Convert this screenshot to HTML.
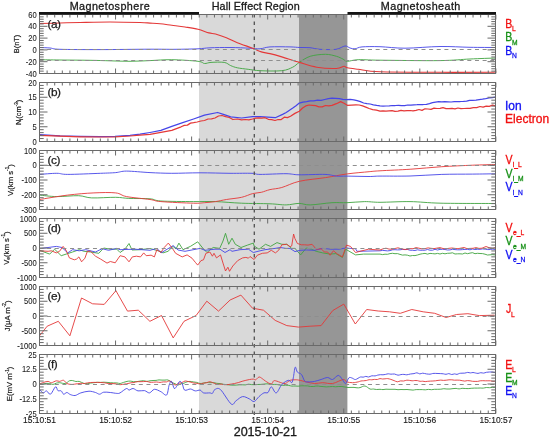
<!DOCTYPE html>
<html><head><meta charset="utf-8"><title>Hall Effect Region plot</title>
<style>html,body{margin:0;padding:0;background:#fff;}svg{display:block;}</style>
</head><body>
<svg width="550" height="437" viewBox="0 0 550 437">
<rect x="0" y="0" width="550" height="437" fill="#ffffff"/>
<rect x="199" y="14" width="100" height="400" fill="#d9d9d9"/>
<rect x="299" y="14" width="48.4" height="400" fill="#969696"/>
<path d="M39.5,59.7C42.92,59.75 51.58,59.90 60.0,60.0C68.42,60.10 81.67,60.17 90.0,60.3C98.33,60.43 103.33,60.63 110.0,60.8C116.67,60.97 123.33,61.33 130.0,61.3C136.67,61.27 143.03,60.87 150.0,60.6C156.97,60.33 163.80,59.58 171.8,59.7C179.80,59.82 192.55,60.67 198.0,61.3C203.45,61.93 202.33,63.32 204.5,63.5C206.67,63.68 207.72,62.58 211.0,62.4C214.28,62.22 220.92,61.87 224.2,62.4C227.48,62.93 228.52,64.70 230.7,65.6C232.88,66.50 234.38,67.18 237.3,67.8C240.22,68.42 244.42,68.82 248.2,69.3C251.98,69.78 254.40,70.47 260.0,70.7C265.60,70.93 276.35,71.28 281.8,70.7C287.25,70.12 289.78,68.58 292.7,67.2C295.62,65.82 296.38,64.22 299.3,62.4C302.22,60.58 305.83,57.65 310.2,56.3C314.57,54.95 321.13,54.30 325.5,54.3C329.87,54.30 333.48,55.50 336.4,56.3C339.32,57.10 341.18,58.27 343.0,59.1C344.82,59.93 344.77,61.20 347.3,61.3C349.83,61.40 352.75,59.88 358.2,59.7C363.65,59.52 366.37,60.05 380.0,60.2C393.63,60.35 425.00,60.80 440.0,60.6C455.00,60.40 460.75,59.43 470.0,59.0C479.25,58.57 491.25,58.17 495.5,58.0" fill="none" stroke="#40a440" stroke-width="0.9" stroke-linejoin="round"/>
<path d="M39.5,47.5C41.25,47.58 46.58,47.70 50.0,48.0C53.42,48.30 51.67,49.03 60.0,49.3C68.33,49.57 85.00,49.62 100.0,49.6C115.00,49.58 137.50,49.25 150.0,49.2C162.50,49.15 167.00,49.37 175.0,49.3C183.00,49.23 192.17,49.05 198.0,48.8C203.83,48.55 204.67,48.02 210.0,47.8C215.33,47.58 223.33,47.43 230.0,47.5C236.67,47.57 245.00,47.98 250.0,48.2C255.00,48.42 256.67,49.02 260.0,48.8C263.33,48.58 265.00,47.22 270.0,46.9C275.00,46.58 285.00,46.80 290.0,46.9C295.00,47.00 296.67,47.37 300.0,47.5C303.33,47.63 306.67,47.40 310.0,47.7C313.33,48.00 315.67,49.03 320.0,49.3C324.33,49.57 331.83,49.85 336.0,49.3C340.17,48.75 342.67,46.22 345.0,46.0C347.33,45.78 348.33,47.53 350.0,48.0C351.67,48.47 353.00,48.98 355.0,48.8C357.00,48.62 357.83,47.25 362.0,46.9C366.17,46.55 372.83,46.48 380.0,46.7C387.17,46.92 395.00,48.23 405.0,48.2C415.00,48.17 429.17,46.65 440.0,46.5C450.83,46.35 460.75,47.13 470.0,47.3C479.25,47.47 491.25,47.47 495.5,47.5" fill="none" stroke="#4545e8" stroke-width="0.9" stroke-linejoin="round"/>
<path d="M39.5,23.5C42.92,23.42 53.25,23.17 60.0,23.0C66.75,22.83 71.67,22.67 80.0,22.5C88.33,22.33 100.00,22.00 110.0,22.0C120.00,22.00 133.33,22.32 140.0,22.5C146.67,22.68 146.67,22.88 150.0,23.1C153.33,23.32 156.37,23.43 160.0,23.8C163.63,24.17 167.63,24.77 171.8,25.3C175.97,25.83 180.63,26.35 185.0,27.0C189.37,27.65 194.02,28.22 198.0,29.2C201.98,30.18 205.98,32.10 208.9,32.9C211.82,33.70 212.58,33.20 215.5,34.0C218.42,34.80 222.77,36.25 226.4,37.7C230.03,39.15 232.93,40.95 237.3,42.7C241.67,44.45 248.60,46.67 252.6,48.2C256.60,49.73 258.40,51.00 261.3,51.9C264.20,52.80 266.58,52.77 270.0,53.6C273.42,54.43 276.92,55.43 281.8,56.9C286.68,58.37 293.48,60.68 299.3,62.4C305.12,64.12 310.52,66.18 316.7,67.2C322.88,68.22 331.85,68.65 336.4,68.5C340.95,68.35 342.18,66.42 344.0,66.3C345.82,66.18 344.93,67.30 347.3,67.8C349.67,68.30 352.75,68.63 358.2,69.3C363.65,69.97 366.37,71.30 380.0,71.8C393.63,72.30 421.67,72.23 440.0,72.3C458.33,72.37 480.75,72.32 490.0,72.2C499.25,72.08 494.58,71.70 495.5,71.6" fill="none" stroke="#e43838" stroke-width="1.1" stroke-linejoin="round"/>
<polyline points="39.5,134.7 60.0,135.8 80.0,136.4 100.0,136.6 115.0,136.3 130.0,135.3 140.0,134.2 150.0,132.5 160.9,130.4 171.8,126.4 182.7,122.7 193.6,119.0 204.5,115.1 217.6,112.5 224.2,114.7 230.7,116.8 241.6,118.0 252.6,116.6 260.0,116.6 275.3,117.7 282.6,114.4 286.2,112.5 289.5,110.3 292.8,108.1 296.0,105.7 299.3,103.1 302.9,102.2 306.6,101.6 310.2,100.9 313.8,100.8 317.5,100.2 321.1,100.3 324.7,99.5 328.4,98.6 332.0,98.1 335.6,98.3 339.3,98.7 342.9,99.4 346.5,99.7 350.2,99.4 353.8,99.8 357.1,100.6 360.4,101.7 363.6,103.0 366.9,103.7 370.2,104.0 373.4,104.8 376.7,105.4 380.0,105.9 383.1,106.1 386.2,106.0 389.3,105.9 392.4,105.5 395.4,105.5 398.5,105.4 401.6,105.7 404.7,105.7 407.8,105.0 410.9,105.2 414.0,104.8 417.1,104.7 420.2,104.5 423.3,104.5 426.4,104.3 429.5,103.6 432.5,102.7 435.6,102.1 438.7,101.7 441.8,101.9 444.9,101.7 448.0,101.8 451.1,102.0 454.2,101.7 457.3,101.5 460.4,101.5 463.5,101.4 466.6,101.2 469.6,100.4 472.7,100.3 476.0,100.1 479.2,99.6 482.5,99.2 485.7,98.7 489.0,98.0 492.2,97.6 495.5,97.2" fill="none" stroke="#4545e8" stroke-width="1.25" stroke-linejoin="round"/>
<polyline points="39.5,135.3 60.0,136.2 80.0,136.8 100.0,137.0 115.0,136.8 130.0,136.0 140.0,135.2 150.0,134.3 171.8,130.4 181.1,126.8 184.3,125.4 187.4,125.1 190.5,123.1 193.6,122.7 197.2,122.0 200.9,121.0 204.5,120.5 208.0,119.0 211.5,118.8 215.0,118.0 218.5,116.0 222.0,115.5 225.6,116.7 229.3,117.5 232.9,119.5 237.2,119.0 241.6,119.9 245.3,119.5 248.9,119.8 252.6,119.0 255.7,118.1 258.8,117.9 261.9,118.2 265.0,117.7 268.3,119.3 271.7,119.7 275.0,120.5 278.1,119.5 281.2,119.5 284.3,117.2 287.4,117.6 290.5,116.2 294.9,113.4 299.3,111.2 302.6,108.0 305.8,105.9 309.1,105.0 312.4,105.3 315.6,105.7 318.9,106.8 322.2,106.9 325.4,105.5 328.7,105.8 332.0,105.3 336.4,103.7 340.7,101.6 344.0,103.2 347.3,105.3 351.6,105.1 356.0,104.8 359.3,105.0 362.6,105.9 365.8,107.1 369.1,108.5 372.7,109.7 376.4,110.2 380.0,111.2 383.0,110.8 386.0,111.2 389.0,110.9 392.0,110.6 395.0,111.3 398.0,111.1 401.0,110.3 404.0,110.8 407.0,110.6 410.0,110.5 413.0,110.9 416.0,110.4 419.0,109.5 422.0,110.4 425.0,108.8 428.0,109.0 431.0,109.4 434.0,108.2 437.0,108.5 440.0,108.3 443.0,107.6 446.0,108.6 449.0,108.7 452.0,108.4 455.0,108.9 458.0,108.0 461.0,108.6 464.0,108.5 467.0,108.4 470.0,108.3 473.3,107.6 476.7,107.6 480.0,106.5 483.1,107.1 486.2,106.2 489.3,106.3 492.4,105.2 495.5,105.8" fill="none" stroke="#e43838" stroke-width="1.25" stroke-linejoin="round"/>
<path d="M39.5,195.1C42.38,195.35 50.28,196.50 56.8,196.6C63.32,196.70 72.78,195.48 78.6,195.7C84.42,195.92 85.52,197.63 91.7,197.9C97.88,198.17 109.52,197.22 115.7,197.3C121.88,197.38 123.08,198.15 128.8,198.4C134.52,198.65 144.65,198.37 150.0,198.8C155.35,199.23 153.63,200.53 160.9,201.0C168.17,201.47 184.50,201.50 193.6,201.6C202.70,201.70 207.50,201.33 215.5,201.6C223.50,201.87 232.52,202.83 241.6,203.2C250.68,203.57 262.57,203.52 270.0,203.8C277.43,204.08 281.37,204.97 286.2,204.9C291.03,204.83 295.00,203.40 299.0,203.4C303.00,203.40 304.70,205.02 310.2,204.9C315.70,204.78 325.87,203.07 332.0,202.7C338.13,202.33 341.55,202.88 347.0,202.7C352.45,202.52 359.20,201.67 364.7,201.6C370.20,201.53 372.45,202.30 380.0,202.3C387.55,202.30 399.83,201.45 410.0,201.6C420.17,201.75 426.75,202.88 441.0,203.2C455.25,203.52 486.42,203.45 495.5,203.5" fill="none" stroke="#40a440" stroke-width="0.9" stroke-linejoin="round"/>
<path d="M39.5,199.5C44.20,198.77 58.63,196.20 67.7,195.1C76.77,194.00 85.90,193.27 93.9,192.9C101.90,192.53 110.25,192.28 115.7,192.9C121.15,193.52 120.88,195.50 126.6,196.6C132.32,197.70 144.28,198.67 150.0,199.5C155.72,200.33 153.63,200.98 160.9,201.6C168.17,202.22 186.33,203.02 193.6,203.2C200.87,203.38 200.85,202.97 204.5,202.7C208.15,202.43 211.85,202.13 215.5,201.6C219.15,201.07 222.05,200.22 226.4,199.5C230.75,198.78 237.23,198.28 241.6,197.3C245.97,196.32 249.32,194.43 252.6,193.6C255.88,192.77 258.40,192.97 261.3,192.3C264.20,191.63 266.58,190.40 270.0,189.6C273.42,188.80 276.92,188.88 281.8,187.5C286.68,186.12 292.02,182.95 299.3,181.3C306.58,179.65 317.50,178.83 325.5,177.6C333.50,176.37 340.03,174.88 347.3,173.9C354.57,172.92 363.65,172.22 369.1,171.7C374.55,171.18 373.03,171.22 380.0,170.8C386.97,170.38 400.60,169.88 410.9,169.2C421.20,168.52 431.50,167.37 441.8,166.7C452.10,166.03 463.75,165.57 472.7,165.2C481.65,164.83 491.70,164.62 495.5,164.5" fill="none" stroke="#e43838" stroke-width="0.9" stroke-linejoin="round"/>
<path d="M39.5,174.4C42.38,174.22 52.10,173.30 56.8,173.3C61.50,173.30 60.42,174.40 67.7,174.4C74.98,174.40 92.50,173.60 100.5,173.3C108.50,173.00 111.35,172.97 115.7,172.6C120.05,172.23 120.88,171.10 126.6,171.1C132.32,171.10 142.47,172.23 150.0,172.6C157.53,172.97 163.47,173.27 171.8,173.3C180.13,173.33 190.30,172.80 200.0,172.8C209.70,172.80 221.33,173.22 230.0,173.3C238.67,173.38 247.00,173.12 252.0,173.3C257.00,173.48 254.33,174.33 260.0,174.4C265.67,174.47 279.50,173.63 286.0,173.7C292.50,173.77 292.50,174.68 299.0,174.8C305.50,174.92 318.77,174.18 325.0,174.4C331.23,174.62 332.73,175.82 336.4,176.1C340.07,176.38 341.57,176.03 347.0,176.1C352.43,176.17 363.50,176.50 369.0,176.5C374.50,176.50 373.17,176.18 380.0,176.1C386.83,176.02 399.70,176.28 410.0,176.0C420.30,175.72 431.35,174.72 441.8,174.4C452.25,174.08 463.75,174.20 472.7,174.1C481.65,174.00 491.70,173.85 495.5,173.8" fill="none" stroke="#4545e8" stroke-width="0.9" stroke-linejoin="round"/>
<polyline points="39.5,250.3 49.7,254.1 54.6,249.2 61.2,255.7 66.1,254.1 72.6,252.0 79.2,249.7 84.1,251.3 90.6,252.0 98.8,253.3 103.7,248.0 110.3,249.2 116.8,249.2 120.1,252.5 125.0,249.0 129.0,243.5 132.0,250.0 140.0,249.7 150.0,248.5 160.0,251.3 163.0,252.9 168.0,251.3 173.0,246.4 176.0,249.0 178.9,243.1 183.0,249.7 190.4,246.4 197.7,241.8 203.0,248.4 207.0,252.5 209.9,250.0 213.2,247.5 219.7,248.4 223.0,241.0 225.5,233.3 228.7,244.3 232.0,238.2 235.3,244.3 241.0,247.5 247.5,245.1 253.3,243.1 254.1,246.0 259.0,249.2 265.5,244.3 270.5,246.4 277.0,242.6 281.9,244.3 286.8,244.3 291.7,248.4 295.0,248.4 300.6,254.9 306.4,248.0 311.3,249.2 316.2,251.3 322.7,252.9 330.1,254.1 335.8,253.6 342.4,257.4 345.6,249.2 355.5,254.9 363.6,254.1 380.0,254.1 382.5,254.6 385.0,254.2 387.5,254.3 390.0,253.6 392.5,253.3 395.0,253.7 397.5,253.6 400.0,254.4 402.5,255.1 405.0,254.9 407.5,255.2 410.0,256.0 412.5,255.5 415.0,255.6 417.5,255.0 420.0,254.2 422.5,253.7 425.0,253.4 427.5,254.1 430.0,253.4 432.5,253.6 435.0,253.9 437.5,253.4 440.0,254.0 442.5,253.3 445.0,253.8 447.5,253.3 450.0,253.2 452.5,252.8 455.0,254.0 457.5,253.8 460.0,253.8 462.5,254.0 465.0,253.0 467.5,253.7 470.0,253.1 472.5,252.7 475.0,253.7 477.5,253.3 480.0,253.5 482.5,253.6 485.0,254.2 487.5,255.0 490.0,254.8 492.8,254.6 495.5,255.0" fill="none" stroke="#40a440" stroke-width="0.9" stroke-linejoin="round"/>
<polyline points="39.5,248.7 56.3,246.4 62.0,247.5 67.7,252.9 72.6,249.7 79.2,250.8 85.7,249.7 95.5,252.0 102.1,248.7 108.6,250.3 116.8,248.4 120.0,249.7 135.0,249.2 150.0,250.3 157.0,248.4 161.0,252.9 173.2,245.6 178.0,250.0 185.0,251.3 200.2,248.4 205.0,250.3 215.0,249.2 220.0,249.2 225.0,252.5 230.0,249.7 232.0,251.3 240.0,249.7 248.4,249.2 253.3,252.5 258.0,251.3 265.0,249.7 275.0,248.4 280.3,247.5 286.0,248.4 290.0,248.4 295.0,251.6 300.0,250.3 306.4,250.0 314.5,250.3 322.7,248.4 330.9,249.2 339.1,249.2 345.6,248.0 355.5,248.7 357.0,251.3 380.0,250.8 382.5,250.4 385.0,250.6 387.5,250.9 390.0,250.6 392.5,249.8 395.0,249.7 397.5,249.9 400.0,249.8 402.5,249.4 405.0,249.6 407.5,249.5 410.0,250.2 412.5,250.3 415.0,250.5 417.5,249.8 420.0,250.2 422.5,250.3 425.0,250.2 427.5,249.5 430.0,250.2 432.5,250.2 435.0,249.3 437.5,250.0 440.0,249.4 442.5,249.3 445.0,249.5 447.5,250.0 450.0,249.9 452.5,249.3 455.0,249.6 457.5,249.8 460.0,249.8 462.5,249.6 465.0,249.4 467.5,249.4 470.0,249.8 472.5,249.0 475.0,249.5 477.5,249.3 480.0,249.3 482.6,248.9 485.2,249.2 487.8,249.6 490.3,249.5 492.9,249.1 495.5,249.6" fill="none" stroke="#4545e8" stroke-width="0.9" stroke-linejoin="round"/>
<polyline points="39.5,250.8 48.1,251.3 51.4,250.8 56.3,252.9 59.5,251.3 63.1,246.4 66.1,250.3 69.4,257.9 74.3,259.8 76.7,259.0 78.9,256.9 81.6,261.8 84.9,258.2 87.4,251.3 90.6,251.3 95.5,256.2 100.5,259.0 107.0,263.1 110.3,261.5 115.2,262.8 120.1,255.7 124.9,256.9 129.0,261.8 132.3,256.9 136.4,256.2 140.5,256.9 143.7,252.9 146.2,255.7 151.1,255.2 154.4,256.9 156.8,249.7 160.9,252.5 164.2,247.5 168.3,243.1 172.4,248.4 175.6,253.3 182.2,256.9 187.1,254.9 192.0,258.2 195.3,262.3 197.7,265.1 201.0,260.6 203.5,259.8 205.9,253.3 209.9,252.0 212.4,256.2 214.0,253.3 216.5,257.9 220.5,254.9 223.0,263.1 225.5,271.0 227.9,267.2 229.5,271.3 232.8,266.0 237.7,260.6 242.6,257.9 245.9,257.4 248.4,258.2 250.0,256.5 254.1,259.5 257.4,255.2 262.3,253.3 267.2,252.9 271.3,250.3 275.4,252.9 278.6,250.3 281.9,244.8 286.8,244.3 290.1,246.7 291.7,245.9 293.6,234.0 294.9,238.5 297.4,243.5 301.5,244.8 304.7,244.8 308.0,245.1 312.1,244.3 316.2,249.2 321.1,248.7 324.4,252.0 327.6,252.0 330.1,255.2 333.4,250.8 337.5,254.1 342.4,256.9 346.5,245.1 350.5,246.4 355.5,252.5 362.0,250.8 368.5,249.2 375.1,249.7 380.0,250.0 383.0,248.8 386.0,248.2 389.0,249.1 392.0,249.2 395.0,248.5 398.0,247.8 401.0,248.7 404.0,249.4 407.0,249.4 410.0,248.6 413.0,248.7 416.0,247.6 419.0,248.2 422.0,248.9 425.0,248.6 428.0,247.9 431.0,248.3 434.0,248.6 437.0,248.1 440.0,247.6 443.0,248.5 446.0,248.8 449.0,248.3 452.0,248.0 455.0,248.4 458.0,248.7 461.0,248.1 464.0,247.5 467.0,248.6 470.0,248.4 473.0,248.3 476.0,247.6 479.0,248.4 482.0,248.2 486.0,246.5 490.0,248.0 492.8,248.4 495.5,247.5" fill="none" stroke="#e43838" stroke-width="0.9" stroke-linejoin="round"/>
<polyline points="39.5,335.8 47.2,326.2 58.3,321.3 69.9,335.8 81.5,298.0 92.6,303.8 104.2,304.4 115.9,290.7 127.5,311.1 138.3,310.2 149.9,321.3 161.5,315.5 173.2,337.9 184.0,321.3 196.1,315.5 206.8,301.2 218.5,311.1 230.1,300.0 240.9,295.1 252.5,308.2 263.5,310.2 275.2,320.4 286.8,325.6 298.5,327.1 310.1,326.2 321.1,325.6 332.8,310.5 343.8,304.1 355.3,324.0 366.7,309.5 378.2,311.0 389.6,311.8 400.3,313.3 411.8,309.5 423.2,311.8 434.7,313.3 446.1,317.5 456.5,314.5 467.9,313.7 479.4,315.6 494.6,315.2" fill="none" stroke="#e43838" stroke-width="0.9" stroke-linejoin="round"/>
<path d="M39.5,384.0C40.07,384.01 41.77,384.17 42.9,384.1C44.03,383.98 45.17,383.52 46.3,383.4C47.43,383.33 48.58,383.34 49.7,383.5C50.82,383.66 51.91,384.45 53.0,384.4C54.09,384.35 55.17,383.50 56.2,383.2C57.33,382.93 57.99,382.65 59.5,382.7C61.01,382.75 63.65,383.82 65.3,383.5C66.95,383.18 68.17,381.29 69.4,380.8C70.63,380.31 71.58,380.46 72.7,380.6C73.76,380.71 74.84,381.41 75.9,381.5C77.02,381.68 77.84,381.07 79.2,381.4C80.56,381.73 82.74,383.13 84.1,383.5C85.46,383.87 86.28,383.66 87.4,383.6C88.46,383.54 89.54,383.29 90.6,383.1C91.72,382.99 92.81,382.83 93.9,382.7C94.99,382.57 96.10,382.38 97.2,382.3C98.30,382.28 99.41,382.41 100.5,382.4C101.59,382.39 102.68,382.24 103.8,382.2C104.86,382.24 105.94,382.32 107.0,382.4C108.12,382.47 109.21,382.61 110.3,382.7C111.39,382.79 112.48,382.89 113.6,382.9C114.66,382.96 115.74,382.80 116.8,382.9C117.92,382.99 118.98,383.58 120.1,383.5C121.22,383.42 122.40,382.75 123.5,382.4C124.70,382.05 125.88,381.62 127.0,381.4C128.12,381.18 129.19,381.03 130.3,381.1C131.38,381.13 132.48,381.60 133.6,381.7C134.67,381.78 135.76,381.71 136.9,381.6C137.95,381.52 139.05,381.25 140.1,381.1C141.24,380.95 142.33,380.67 143.4,380.7C144.52,380.76 145.62,381.34 146.7,381.4C147.81,381.37 148.95,380.95 150.0,380.8C151.05,380.65 152.00,380.54 153.0,380.5C154.00,380.41 155.00,380.49 156.0,380.4C157.00,380.29 158.00,379.94 159.0,379.9C160.00,379.86 161.00,380.11 162.0,380.1C163.00,380.18 164.00,380.13 165.0,380.1C166.00,380.08 166.83,379.62 168.0,380.0C169.17,380.38 170.83,381.78 172.0,382.4C173.17,383.02 174.00,383.27 175.0,383.7C176.00,384.14 177.00,384.98 178.0,385.0C179.00,385.02 180.00,384.10 181.0,383.8C182.00,383.50 183.00,383.54 184.0,383.2C185.00,382.87 186.00,382.11 187.0,381.8C188.00,381.50 188.94,381.39 190.0,381.4C191.06,381.41 192.22,381.70 193.3,381.9C194.44,382.03 195.56,382.12 196.7,382.4C197.78,382.66 198.89,383.38 200.0,383.5C201.11,383.62 202.22,383.30 203.3,383.1C204.44,382.97 205.56,382.58 206.7,382.5C207.78,382.44 208.89,382.68 210.0,382.7C211.11,382.72 212.22,382.51 213.3,382.6C214.44,382.70 215.56,383.11 216.7,383.3C217.78,383.43 218.89,383.41 220.0,383.6C221.11,383.76 222.22,384.14 223.3,384.3C224.44,384.50 225.56,384.53 226.7,384.6C227.78,384.76 228.93,384.90 230.0,385.0C231.07,385.10 232.05,385.22 233.1,385.2C234.10,385.26 235.13,385.20 236.2,385.1C237.18,385.04 238.21,384.80 239.2,384.8C240.26,384.70 241.28,384.80 242.3,384.8C243.33,384.83 244.36,384.96 245.4,384.9C246.41,384.75 247.44,384.25 248.5,384.2C249.49,384.16 250.51,384.51 251.5,384.6C252.56,384.67 253.59,384.72 254.6,384.7C255.64,384.70 256.67,384.58 257.7,384.5C258.72,384.49 259.74,384.50 260.8,384.4C261.79,384.36 262.82,384.24 263.8,384.1C264.87,384.03 265.90,383.84 266.9,383.8C267.95,383.80 268.97,383.89 270.0,384.0C271.03,384.11 272.08,384.42 273.1,384.5C274.17,384.54 275.21,384.28 276.2,384.4C277.29,384.45 278.33,384.82 279.4,385.0C280.42,385.16 281.46,385.35 282.5,385.4C283.54,385.41 284.58,385.16 285.6,385.2C286.67,385.17 287.71,385.26 288.8,385.4C289.79,385.58 290.83,386.01 291.9,386.1C292.92,386.20 293.96,385.98 295.0,386.0C296.04,386.02 297.08,386.25 298.1,386.2C299.17,386.19 300.21,385.88 301.2,385.8C302.29,385.74 303.33,385.80 304.4,385.8C305.42,385.82 306.46,385.75 307.5,385.9C308.54,385.99 309.58,386.41 310.6,386.5C311.67,386.61 312.71,386.56 313.8,386.5C314.79,386.38 315.83,386.01 316.9,386.0C317.92,385.95 318.96,386.19 320.0,386.3C321.04,386.41 322.08,386.56 323.1,386.6C324.17,386.74 325.21,386.85 326.2,386.9C327.29,386.87 328.33,386.74 329.4,386.7C330.42,386.63 331.46,386.52 332.5,386.5C333.54,386.55 334.58,386.78 335.6,386.8C336.67,386.78 337.71,386.57 338.8,386.5C339.79,386.49 340.83,386.45 341.9,386.5C342.92,386.60 343.98,386.84 345.0,387.0C346.02,387.16 347.00,387.44 348.0,387.5C349.00,387.56 350.00,387.38 351.0,387.4C352.00,387.34 353.00,387.30 354.0,387.4C355.00,387.46 356.00,387.79 357.0,387.8C358.00,387.86 358.67,387.90 360.0,387.6C361.33,387.30 363.33,385.77 365.0,386.0C366.67,386.23 368.61,388.49 370.0,389.0C371.39,389.51 372.22,388.96 373.3,389.0C374.44,389.13 375.56,389.46 376.7,389.5C377.78,389.54 378.94,389.28 380.0,389.3C381.06,389.32 382.00,389.63 383.0,389.6C384.00,389.59 385.00,389.23 386.0,389.2C387.00,389.11 388.00,389.22 389.0,389.3C390.00,389.28 391.00,389.32 392.0,389.3C393.00,389.35 394.00,389.29 395.0,389.3C396.00,389.40 397.00,389.65 398.0,389.7C399.00,389.69 400.00,389.46 401.0,389.5C402.00,389.45 403.00,389.64 404.0,389.6C405.00,389.63 406.00,389.43 407.0,389.5C408.00,389.48 408.99,389.70 410.0,389.8C411.01,389.90 412.05,390.11 413.1,390.1C414.10,390.03 415.13,389.64 416.2,389.6C417.18,389.48 418.21,389.57 419.2,389.6C420.26,389.59 421.28,389.58 422.3,389.6C423.33,389.66 424.36,389.86 425.4,389.8C426.41,389.77 427.44,389.39 428.5,389.4C429.49,389.35 430.51,389.71 431.5,389.7C432.56,389.69 433.59,389.38 434.6,389.3C435.64,389.24 436.67,389.29 437.7,389.3C438.72,389.25 439.74,389.29 440.8,389.2C441.79,389.11 442.82,388.77 443.8,388.7C444.87,388.71 445.90,388.97 446.9,389.0C447.95,389.06 448.98,389.06 450.0,389.0C451.02,388.94 452.02,388.75 453.0,388.6C454.04,388.55 455.06,388.35 456.1,388.4C457.08,388.45 458.09,388.95 459.1,388.9C460.11,388.93 461.12,388.41 462.1,388.3C463.14,388.26 464.16,388.44 465.2,388.5C466.18,388.52 467.19,388.60 468.2,388.6C469.21,388.56 470.22,388.43 471.2,388.3C472.24,388.26 473.26,388.10 474.3,388.1C475.28,388.02 476.29,388.12 477.3,388.1C478.31,388.11 479.32,388.04 480.3,388.0C481.34,388.05 482.36,388.22 483.4,388.1C484.38,388.03 485.39,387.55 486.4,387.5C487.41,387.42 488.42,387.76 489.4,387.7C490.44,387.73 491.46,387.44 492.5,387.4C493.48,387.36 494.99,387.48 495.5,387.5" fill="none" stroke="#40a440" stroke-width="0.9" stroke-linejoin="round"/>
<path d="M39.5,384.0C40.22,383.72 42.37,382.76 43.8,382.3C45.23,381.90 46.83,381.34 48.1,381.4C49.37,381.46 50.03,382.80 51.4,382.7C52.77,382.60 54.95,381.02 56.3,380.8C57.65,380.58 58.28,381.48 59.5,381.4C60.72,381.32 62.37,379.95 63.6,380.3C64.83,380.65 65.67,382.82 66.9,383.5C68.13,384.18 69.77,384.28 71.0,384.4C72.23,384.52 73.18,384.32 74.3,384.2C75.37,384.08 76.46,383.83 77.5,383.7C78.64,383.54 79.73,383.37 80.8,383.3C81.92,383.30 83.01,383.57 84.1,383.5C85.19,383.43 86.28,383.05 87.4,382.9C88.47,382.72 89.56,382.59 90.7,382.5C91.74,382.42 92.83,382.39 93.9,382.4C95.02,382.36 96.04,382.38 97.2,382.4C98.36,382.42 99.65,382.43 100.9,382.5C102.10,382.55 103.33,382.59 104.6,382.8C105.78,382.92 107.00,383.36 108.2,383.5C109.45,383.61 110.60,383.43 111.9,383.5C113.20,383.57 114.63,383.69 116.0,383.9C117.37,384.09 118.60,384.68 120.1,384.7C121.60,384.72 123.68,384.19 125.0,384.0C126.32,383.81 127.00,383.75 128.0,383.5C129.00,383.33 130.00,382.94 131.0,382.8C132.00,382.58 133.00,382.65 134.0,382.5C135.00,382.29 136.00,381.81 137.0,381.7C138.00,381.55 138.94,381.72 140.0,381.7C141.06,381.68 142.22,381.61 143.3,381.6C144.44,381.53 145.56,381.33 146.7,381.4C147.78,381.57 148.89,382.15 150.0,382.3C151.11,382.41 152.22,382.27 153.3,382.2C154.44,382.17 155.56,381.94 156.7,382.0C157.78,382.00 158.89,382.41 160.0,382.4C161.11,382.39 162.22,381.99 163.3,381.9C164.44,381.82 165.56,382.05 166.7,381.9C167.78,381.75 168.61,380.48 170.0,381.0C171.39,381.52 173.61,384.62 175.0,385.0C176.39,385.38 177.22,383.66 178.3,383.3C179.44,382.88 180.56,383.03 181.7,382.7C182.78,382.27 183.94,381.19 185.0,381.0C186.06,380.81 187.00,381.33 188.0,381.5C189.00,381.73 190.00,381.93 191.0,382.2C192.00,382.46 193.00,382.95 194.0,383.1C195.00,383.32 196.00,383.15 197.0,383.3C198.00,383.44 198.94,384.01 200.0,384.0C201.06,383.99 202.22,383.46 203.3,383.2C204.44,383.02 205.56,382.91 206.7,382.7C207.78,382.40 208.64,381.56 210.0,381.7C211.36,381.84 213.46,383.05 214.8,383.5C216.14,383.95 216.98,384.28 218.1,384.4C219.16,384.49 220.24,384.09 221.3,384.1C222.42,384.20 223.51,384.62 224.6,384.7C225.69,384.78 226.80,384.73 227.9,384.6C229.00,384.53 230.10,384.30 231.2,384.1C232.30,383.92 233.32,383.76 234.5,383.5C235.68,383.24 237.03,382.94 238.3,382.6C239.57,382.20 240.83,381.65 242.1,381.3C243.37,380.89 244.65,380.59 245.9,380.3C247.15,380.01 248.37,379.75 249.6,379.5C250.83,379.35 252.28,379.06 253.3,379.1C254.32,379.14 254.75,380.15 255.7,379.8C256.65,379.45 257.91,377.20 259.0,377.0C260.09,376.80 261.17,377.92 262.2,378.6C263.33,379.29 263.99,380.20 265.5,381.1C267.01,382.00 269.93,384.05 271.3,384.0C272.67,383.95 272.75,381.26 273.7,380.8C274.65,380.34 275.90,380.96 277.0,381.2C278.10,381.50 278.93,382.02 280.3,382.4C281.67,382.78 283.57,383.85 285.2,383.5C286.83,383.15 288.48,380.92 290.1,380.3C291.72,379.68 293.46,379.84 294.9,379.8C296.34,379.76 296.82,379.72 298.7,380.1C300.65,380.42 303.77,381.33 306.4,381.9C309.03,382.47 311.78,383.37 314.5,383.5C317.22,383.63 319.70,382.70 322.7,382.7C325.70,382.70 329.08,384.03 332.5,383.5C335.92,382.97 340.87,379.77 343.2,379.5C345.53,379.23 344.95,381.37 346.5,381.9C348.05,382.43 351.00,382.60 352.5,382.7C354.00,382.77 354.55,382.53 355.5,382.4C356.45,382.27 357.30,382.13 358.2,381.9C359.10,381.66 360.00,381.16 360.9,381.0C361.80,380.80 362.69,380.88 363.6,380.8C364.51,380.72 365.42,380.70 366.3,380.5C367.24,380.32 368.16,379.78 369.1,379.7C369.98,379.54 370.89,379.84 371.8,379.8C372.71,379.76 373.62,379.48 374.5,379.4C375.44,379.37 376.36,379.62 377.3,379.5C378.18,379.34 379.12,378.69 380.0,378.6C380.88,378.51 381.71,378.93 382.6,379.0C383.42,379.00 384.28,378.86 385.1,378.8C385.99,378.74 386.74,378.49 387.7,378.6C388.66,378.71 389.83,379.09 390.9,379.4C391.97,379.76 393.03,380.20 394.1,380.6C395.17,381.00 396.24,381.74 397.3,381.8C398.36,381.86 399.41,381.07 400.5,380.9C401.52,380.80 402.58,381.13 403.6,381.0C404.69,380.88 405.83,380.30 406.8,380.2C407.77,380.10 408.57,380.30 409.4,380.4C410.33,380.50 411.22,380.79 412.1,380.8C412.98,380.83 413.87,380.57 414.8,380.5C415.63,380.49 416.52,380.45 417.4,380.6C418.28,380.73 419.17,381.24 420.1,381.3C420.93,381.45 421.83,381.17 422.7,381.2C423.57,381.23 424.40,381.54 425.2,381.6C426.10,381.57 426.95,381.36 427.8,381.3C428.65,381.21 429.50,381.16 430.4,381.1C431.20,381.06 432.05,381.04 432.9,381.0C433.75,380.93 434.60,380.87 435.4,380.8C436.30,380.68 437.12,380.51 438.0,380.4C438.88,380.29 439.83,380.10 440.8,380.1C441.67,380.09 442.58,380.34 443.5,380.4C444.42,380.36 445.33,380.25 446.2,380.2C447.17,380.06 448.08,379.86 449.0,379.8C449.92,379.73 450.83,379.69 451.8,379.8C452.67,379.83 453.61,380.15 454.5,380.2C455.39,380.25 456.22,380.09 457.1,380.1C457.94,380.07 458.81,380.06 459.7,380.2C460.53,380.26 461.39,380.54 462.2,380.7C463.11,380.84 463.97,381.06 464.8,381.1C465.69,381.05 466.56,380.69 467.4,380.6C468.28,380.60 469.14,380.70 470.0,380.8C470.86,380.90 471.70,381.18 472.6,381.3C473.40,381.37 474.25,381.35 475.1,381.4C475.95,381.38 476.80,381.47 477.6,381.4C478.50,381.28 479.35,380.93 480.2,380.8C481.05,380.72 481.90,380.73 482.8,380.7C483.60,380.71 484.45,380.76 485.3,380.8C486.15,380.78 487.00,380.77 487.9,380.8C488.70,380.79 489.55,380.74 490.4,380.8C491.25,380.91 492.10,381.22 492.9,381.3C493.80,381.35 495.07,381.21 495.5,381.2" fill="none" stroke="#e43838" stroke-width="0.9" stroke-linejoin="round"/>
<path d="M39.5,389.3C40.12,389.90 42.03,392.63 43.2,392.9C44.37,393.17 45.28,390.68 46.5,390.9C47.72,391.12 49.00,394.88 50.5,394.2C52.00,393.52 54.27,387.40 55.5,386.8C56.73,386.20 56.95,389.92 57.9,390.6C58.85,391.28 60.25,390.30 61.2,390.9C62.15,391.50 62.65,393.93 63.6,394.2C64.55,394.47 65.80,392.45 66.9,392.5C68.00,392.55 68.83,394.00 70.2,394.5C71.57,395.00 73.33,395.77 75.1,395.5C76.87,395.23 78.48,393.62 80.8,392.9C83.12,392.18 86.55,391.27 89.0,391.2C91.45,391.13 93.73,392.00 95.5,392.5C97.27,393.00 98.23,394.25 99.6,394.2C100.97,394.15 101.92,392.48 103.7,392.2C105.48,391.92 108.12,392.30 110.3,392.5C112.48,392.70 115.18,393.33 116.8,393.4C118.42,393.47 118.38,393.72 120.0,392.9C121.62,392.08 125.00,388.97 126.5,388.5C128.00,388.03 127.90,390.10 129.0,390.1C130.10,390.10 131.60,388.37 133.1,388.5C134.60,388.63 136.10,390.55 138.0,390.9C139.90,391.25 142.58,390.27 144.5,390.6C146.42,390.93 147.85,393.12 149.5,392.9C151.15,392.68 152.50,389.50 154.4,389.3C156.30,389.10 158.87,390.75 160.9,391.7C162.93,392.65 165.23,396.08 166.6,395.0C167.97,393.92 168.28,387.47 169.1,385.2C169.92,382.93 170.63,380.85 171.5,381.4C172.37,381.95 173.33,387.87 174.3,388.5C175.27,389.13 176.40,386.38 177.3,385.2C178.20,384.02 178.88,381.68 179.7,381.4C180.52,381.12 181.38,382.05 182.2,383.5C183.02,384.95 183.23,389.18 184.6,390.1C185.97,391.02 188.62,388.87 190.4,389.0C192.18,389.13 193.67,390.72 195.3,390.9C196.93,391.08 198.83,389.77 200.2,390.1C201.57,390.43 201.88,392.43 203.5,392.9C205.12,393.37 208.42,392.82 209.9,392.9C211.38,392.98 211.58,393.95 212.4,393.4C213.22,392.85 213.45,390.23 214.8,389.6C216.15,388.97 217.77,387.20 220.5,389.6C223.23,392.00 228.60,402.15 231.2,404.0C233.80,405.85 234.20,401.93 236.1,400.7C238.00,399.47 240.42,396.92 242.6,396.6C244.78,396.28 247.28,397.98 249.2,398.8C251.12,399.62 252.47,401.87 254.1,401.5C255.73,401.13 257.37,398.03 259.0,396.6C260.63,395.17 262.40,393.58 263.9,392.9C265.40,392.22 266.77,393.52 268.0,392.5C269.23,391.48 269.93,386.73 271.3,386.8C272.67,386.87 274.43,393.30 276.2,392.9C277.97,392.50 279.85,386.50 281.9,384.4C283.95,382.30 286.87,380.58 288.5,380.3C290.13,380.02 290.90,383.12 291.7,382.7C292.50,382.28 292.72,380.38 293.3,377.8C293.88,375.22 294.52,368.15 295.2,367.2C295.88,366.25 296.35,370.88 297.4,372.1C298.45,373.32 300.28,373.00 301.5,374.5C302.72,376.00 303.62,379.87 304.7,381.1C305.78,382.33 306.37,381.85 308.0,381.9C309.63,381.95 312.32,381.80 314.5,381.4C316.68,381.00 318.92,380.15 321.1,379.5C323.28,378.85 325.70,377.50 327.6,377.5C329.50,377.50 330.72,379.85 332.5,379.5C334.28,379.15 336.65,375.40 338.3,375.4C339.95,375.40 341.18,378.15 342.4,379.5C343.62,380.85 344.52,383.78 345.6,383.5C346.68,383.22 347.80,378.70 348.9,377.8C350.00,376.90 351.10,377.81 352.2,378.1C353.30,378.38 354.13,379.68 355.5,379.5C356.87,379.32 359.13,377.39 360.4,377.0C361.67,376.61 362.20,377.29 363.1,377.2C364.00,377.09 364.90,376.42 365.8,376.4C366.70,376.36 367.50,377.09 368.5,377.0C369.50,376.91 370.70,376.03 371.8,375.8C372.90,375.66 374.11,376.02 375.1,375.9C376.09,375.78 376.86,375.33 377.7,375.1C378.61,374.92 379.49,374.75 380.4,374.7C381.24,374.64 382.12,374.85 383.0,374.8C383.88,374.75 384.76,374.55 385.6,374.4C386.51,374.21 387.39,373.80 388.3,373.8C389.14,373.74 389.87,374.16 390.9,374.2C391.93,374.24 393.27,373.83 394.4,374.0C395.63,374.17 396.92,375.10 398.0,375.2C399.08,375.30 399.96,374.72 400.9,374.6C401.91,374.44 402.89,374.34 403.9,374.4C404.84,374.41 405.71,374.86 406.8,374.8C407.89,374.74 409.20,374.21 410.4,374.0C411.60,373.81 412.92,373.80 414.0,373.6C415.08,373.40 415.93,372.76 416.9,372.8C417.87,372.85 418.83,373.79 419.8,373.9C420.77,373.92 421.61,373.20 422.7,373.2C423.79,373.20 425.13,373.69 426.4,373.9C427.57,374.03 428.95,374.26 430.0,374.2C431.05,374.14 431.78,373.61 432.7,373.5C433.56,373.34 434.44,373.38 435.3,373.4C436.22,373.39 437.11,373.47 438.0,373.5C438.89,373.53 439.78,373.50 440.7,373.6C441.56,373.61 442.44,373.72 443.3,373.8C444.22,373.97 445.08,374.33 446.0,374.3C446.92,374.27 447.89,373.60 448.8,373.6C449.78,373.68 450.72,374.48 451.7,374.5C452.61,374.57 453.61,373.93 454.5,373.9C455.39,373.87 456.17,374.44 457.0,374.4C457.83,374.27 458.67,373.58 459.5,373.4C460.33,373.19 461.11,373.25 462.0,373.2C462.89,373.15 463.89,373.21 464.8,373.1C465.78,372.95 466.72,372.45 467.7,372.4C468.61,372.39 469.61,372.89 470.5,372.9C471.39,372.91 472.17,372.49 473.0,372.5C473.83,372.53 474.67,372.86 475.5,373.0C476.33,373.16 477.12,373.45 478.0,373.4C478.88,373.35 479.87,372.75 480.8,372.7C481.73,372.66 482.67,373.19 483.6,373.1C484.53,373.06 485.43,372.48 486.4,372.3C487.37,372.12 488.42,372.07 489.4,372.0C490.44,371.98 491.46,371.89 492.5,372.0C493.48,372.18 494.99,372.76 495.5,372.9" fill="none" stroke="#4545e8" stroke-width="0.9" stroke-linejoin="round"/>
<line x1="39.5" y1="49.5" x2="495.5" y2="49.5" stroke="#8e8e8e" stroke-width="1" stroke-dasharray="4 3.64"/>
<line x1="39.5" y1="60.5" x2="495.5" y2="60.5" stroke="#8e8e8e" stroke-width="1" stroke-dasharray="4 3.64"/>
<line x1="39.5" y1="165.5" x2="495.5" y2="165.5" stroke="#8e8e8e" stroke-width="1" stroke-dasharray="4 3.64"/>
<line x1="39.5" y1="248.5" x2="495.5" y2="248.5" stroke="#8e8e8e" stroke-width="1" stroke-dasharray="4 3.64"/>
<line x1="39.5" y1="316.5" x2="495.5" y2="316.5" stroke="#8e8e8e" stroke-width="1" stroke-dasharray="4 3.64"/>
<line x1="39.5" y1="384.5" x2="495.5" y2="384.5" stroke="#8e8e8e" stroke-width="1" stroke-dasharray="4 3.64"/>
<line x1="254.3" y1="14" x2="254.3" y2="415" stroke="#505050" stroke-width="1.3" stroke-dasharray="3.6 3.9"/>
<rect x="39.5" y="14.5" width="456.0" height="59.0" fill="none" stroke="#6a6a6a" stroke-width="1"/>
<path d="M39.50 73.5V68.5M39.50 14.5V19.5M47.11 73.5V70.5M47.11 14.5V17.5M54.71 73.5V70.5M54.71 14.5V17.5M62.32 73.5V70.5M62.32 14.5V17.5M69.92 73.5V70.5M69.92 14.5V17.5M77.53 73.5V70.5M77.53 14.5V17.5M85.14 73.5V70.5M85.14 14.5V17.5M92.74 73.5V70.5M92.74 14.5V17.5M100.35 73.5V70.5M100.35 14.5V17.5M107.95 73.5V70.5M107.95 14.5V17.5M115.56 73.5V68.5M115.56 14.5V19.5M123.17 73.5V70.5M123.17 14.5V17.5M130.77 73.5V70.5M130.77 14.5V17.5M138.38 73.5V70.5M138.38 14.5V17.5M145.98 73.5V70.5M145.98 14.5V17.5M153.59 73.5V70.5M153.59 14.5V17.5M161.20 73.5V70.5M161.20 14.5V17.5M168.80 73.5V70.5M168.80 14.5V17.5M176.41 73.5V70.5M176.41 14.5V17.5M184.01 73.5V70.5M184.01 14.5V17.5M191.62 73.5V68.5M191.62 14.5V19.5M199.23 73.5V70.5M199.23 14.5V17.5M206.83 73.5V70.5M206.83 14.5V17.5M214.44 73.5V70.5M214.44 14.5V17.5M222.04 73.5V70.5M222.04 14.5V17.5M229.65 73.5V70.5M229.65 14.5V17.5M237.26 73.5V70.5M237.26 14.5V17.5M244.86 73.5V70.5M244.86 14.5V17.5M252.47 73.5V70.5M252.47 14.5V17.5M260.07 73.5V70.5M260.07 14.5V17.5M267.68 73.5V68.5M267.68 14.5V19.5M275.29 73.5V70.5M275.29 14.5V17.5M282.89 73.5V70.5M282.89 14.5V17.5M290.50 73.5V70.5M290.50 14.5V17.5M298.10 73.5V70.5M298.10 14.5V17.5M305.71 73.5V70.5M305.71 14.5V17.5M313.32 73.5V70.5M313.32 14.5V17.5M320.92 73.5V70.5M320.92 14.5V17.5M328.53 73.5V70.5M328.53 14.5V17.5M336.13 73.5V70.5M336.13 14.5V17.5M343.74 73.5V68.5M343.74 14.5V19.5M351.35 73.5V70.5M351.35 14.5V17.5M358.95 73.5V70.5M358.95 14.5V17.5M366.56 73.5V70.5M366.56 14.5V17.5M374.16 73.5V70.5M374.16 14.5V17.5M381.77 73.5V70.5M381.77 14.5V17.5M389.38 73.5V70.5M389.38 14.5V17.5M396.98 73.5V70.5M396.98 14.5V17.5M404.59 73.5V70.5M404.59 14.5V17.5M412.19 73.5V70.5M412.19 14.5V17.5M419.80 73.5V68.5M419.80 14.5V19.5M427.41 73.5V70.5M427.41 14.5V17.5M435.01 73.5V70.5M435.01 14.5V17.5M442.62 73.5V70.5M442.62 14.5V17.5M450.22 73.5V70.5M450.22 14.5V17.5M457.83 73.5V70.5M457.83 14.5V17.5M465.44 73.5V70.5M465.44 14.5V17.5M473.04 73.5V70.5M473.04 14.5V17.5M480.65 73.5V70.5M480.65 14.5V17.5M488.25 73.5V70.5M488.25 14.5V17.5M495.86 73.5V68.5M495.86 14.5V19.5M39.5 73.50H47.5M495.5 73.50H487.5M39.5 71.14H43.7M495.5 71.14H491.3M39.5 68.78H43.7M495.5 68.78H491.3M39.5 66.42H43.7M495.5 66.42H491.3M39.5 64.06H43.7M495.5 64.06H491.3M39.5 61.70H47.5M495.5 61.70H487.5M39.5 59.34H43.7M495.5 59.34H491.3M39.5 56.98H43.7M495.5 56.98H491.3M39.5 54.62H43.7M495.5 54.62H491.3M39.5 52.26H43.7M495.5 52.26H491.3M39.5 49.90H47.5M495.5 49.90H487.5M39.5 47.54H43.7M495.5 47.54H491.3M39.5 45.18H43.7M495.5 45.18H491.3M39.5 42.82H43.7M495.5 42.82H491.3M39.5 40.46H43.7M495.5 40.46H491.3M39.5 38.10H47.5M495.5 38.10H487.5M39.5 35.74H43.7M495.5 35.74H491.3M39.5 33.38H43.7M495.5 33.38H491.3M39.5 31.02H43.7M495.5 31.02H491.3M39.5 28.66H43.7M495.5 28.66H491.3M39.5 26.30H47.5M495.5 26.30H487.5M39.5 23.94H43.7M495.5 23.94H491.3M39.5 21.58H43.7M495.5 21.58H491.3M39.5 19.22H43.7M495.5 19.22H491.3M39.5 16.86H43.7M495.5 16.86H491.3M39.5 14.50H47.5M495.5 14.50H487.5" stroke="#6a6a6a" stroke-width="1" fill="none"/>
<rect x="39.5" y="82.5" width="456.0" height="59.0" fill="none" stroke="#6a6a6a" stroke-width="1"/>
<path d="M39.50 141.5V136.5M39.50 82.5V87.5M47.11 141.5V138.5M47.11 82.5V85.5M54.71 141.5V138.5M54.71 82.5V85.5M62.32 141.5V138.5M62.32 82.5V85.5M69.92 141.5V138.5M69.92 82.5V85.5M77.53 141.5V138.5M77.53 82.5V85.5M85.14 141.5V138.5M85.14 82.5V85.5M92.74 141.5V138.5M92.74 82.5V85.5M100.35 141.5V138.5M100.35 82.5V85.5M107.95 141.5V138.5M107.95 82.5V85.5M115.56 141.5V136.5M115.56 82.5V87.5M123.17 141.5V138.5M123.17 82.5V85.5M130.77 141.5V138.5M130.77 82.5V85.5M138.38 141.5V138.5M138.38 82.5V85.5M145.98 141.5V138.5M145.98 82.5V85.5M153.59 141.5V138.5M153.59 82.5V85.5M161.20 141.5V138.5M161.20 82.5V85.5M168.80 141.5V138.5M168.80 82.5V85.5M176.41 141.5V138.5M176.41 82.5V85.5M184.01 141.5V138.5M184.01 82.5V85.5M191.62 141.5V136.5M191.62 82.5V87.5M199.23 141.5V138.5M199.23 82.5V85.5M206.83 141.5V138.5M206.83 82.5V85.5M214.44 141.5V138.5M214.44 82.5V85.5M222.04 141.5V138.5M222.04 82.5V85.5M229.65 141.5V138.5M229.65 82.5V85.5M237.26 141.5V138.5M237.26 82.5V85.5M244.86 141.5V138.5M244.86 82.5V85.5M252.47 141.5V138.5M252.47 82.5V85.5M260.07 141.5V138.5M260.07 82.5V85.5M267.68 141.5V136.5M267.68 82.5V87.5M275.29 141.5V138.5M275.29 82.5V85.5M282.89 141.5V138.5M282.89 82.5V85.5M290.50 141.5V138.5M290.50 82.5V85.5M298.10 141.5V138.5M298.10 82.5V85.5M305.71 141.5V138.5M305.71 82.5V85.5M313.32 141.5V138.5M313.32 82.5V85.5M320.92 141.5V138.5M320.92 82.5V85.5M328.53 141.5V138.5M328.53 82.5V85.5M336.13 141.5V138.5M336.13 82.5V85.5M343.74 141.5V136.5M343.74 82.5V87.5M351.35 141.5V138.5M351.35 82.5V85.5M358.95 141.5V138.5M358.95 82.5V85.5M366.56 141.5V138.5M366.56 82.5V85.5M374.16 141.5V138.5M374.16 82.5V85.5M381.77 141.5V138.5M381.77 82.5V85.5M389.38 141.5V138.5M389.38 82.5V85.5M396.98 141.5V138.5M396.98 82.5V85.5M404.59 141.5V138.5M404.59 82.5V85.5M412.19 141.5V138.5M412.19 82.5V85.5M419.80 141.5V136.5M419.80 82.5V87.5M427.41 141.5V138.5M427.41 82.5V85.5M435.01 141.5V138.5M435.01 82.5V85.5M442.62 141.5V138.5M442.62 82.5V85.5M450.22 141.5V138.5M450.22 82.5V85.5M457.83 141.5V138.5M457.83 82.5V85.5M465.44 141.5V138.5M465.44 82.5V85.5M473.04 141.5V138.5M473.04 82.5V85.5M480.65 141.5V138.5M480.65 82.5V85.5M488.25 141.5V138.5M488.25 82.5V85.5M495.86 141.5V136.5M495.86 82.5V87.5M39.5 141.50H47.5M495.5 141.50H487.5M39.5 138.55H43.7M495.5 138.55H491.3M39.5 135.60H43.7M495.5 135.60H491.3M39.5 132.65H43.7M495.5 132.65H491.3M39.5 129.70H43.7M495.5 129.70H491.3M39.5 126.75H47.5M495.5 126.75H487.5M39.5 123.80H43.7M495.5 123.80H491.3M39.5 120.85H43.7M495.5 120.85H491.3M39.5 117.90H43.7M495.5 117.90H491.3M39.5 114.95H43.7M495.5 114.95H491.3M39.5 112.00H47.5M495.5 112.00H487.5M39.5 109.05H43.7M495.5 109.05H491.3M39.5 106.10H43.7M495.5 106.10H491.3M39.5 103.15H43.7M495.5 103.15H491.3M39.5 100.20H43.7M495.5 100.20H491.3M39.5 97.25H47.5M495.5 97.25H487.5M39.5 94.30H43.7M495.5 94.30H491.3M39.5 91.35H43.7M495.5 91.35H491.3M39.5 88.40H43.7M495.5 88.40H491.3M39.5 85.45H43.7M495.5 85.45H491.3M39.5 82.50H47.5M495.5 82.50H487.5" stroke="#6a6a6a" stroke-width="1" fill="none"/>
<rect x="39.5" y="150.5" width="456.0" height="59.0" fill="none" stroke="#6a6a6a" stroke-width="1"/>
<path d="M39.50 209.5V204.5M39.50 150.5V155.5M47.11 209.5V206.5M47.11 150.5V153.5M54.71 209.5V206.5M54.71 150.5V153.5M62.32 209.5V206.5M62.32 150.5V153.5M69.92 209.5V206.5M69.92 150.5V153.5M77.53 209.5V206.5M77.53 150.5V153.5M85.14 209.5V206.5M85.14 150.5V153.5M92.74 209.5V206.5M92.74 150.5V153.5M100.35 209.5V206.5M100.35 150.5V153.5M107.95 209.5V206.5M107.95 150.5V153.5M115.56 209.5V204.5M115.56 150.5V155.5M123.17 209.5V206.5M123.17 150.5V153.5M130.77 209.5V206.5M130.77 150.5V153.5M138.38 209.5V206.5M138.38 150.5V153.5M145.98 209.5V206.5M145.98 150.5V153.5M153.59 209.5V206.5M153.59 150.5V153.5M161.20 209.5V206.5M161.20 150.5V153.5M168.80 209.5V206.5M168.80 150.5V153.5M176.41 209.5V206.5M176.41 150.5V153.5M184.01 209.5V206.5M184.01 150.5V153.5M191.62 209.5V204.5M191.62 150.5V155.5M199.23 209.5V206.5M199.23 150.5V153.5M206.83 209.5V206.5M206.83 150.5V153.5M214.44 209.5V206.5M214.44 150.5V153.5M222.04 209.5V206.5M222.04 150.5V153.5M229.65 209.5V206.5M229.65 150.5V153.5M237.26 209.5V206.5M237.26 150.5V153.5M244.86 209.5V206.5M244.86 150.5V153.5M252.47 209.5V206.5M252.47 150.5V153.5M260.07 209.5V206.5M260.07 150.5V153.5M267.68 209.5V204.5M267.68 150.5V155.5M275.29 209.5V206.5M275.29 150.5V153.5M282.89 209.5V206.5M282.89 150.5V153.5M290.50 209.5V206.5M290.50 150.5V153.5M298.10 209.5V206.5M298.10 150.5V153.5M305.71 209.5V206.5M305.71 150.5V153.5M313.32 209.5V206.5M313.32 150.5V153.5M320.92 209.5V206.5M320.92 150.5V153.5M328.53 209.5V206.5M328.53 150.5V153.5M336.13 209.5V206.5M336.13 150.5V153.5M343.74 209.5V204.5M343.74 150.5V155.5M351.35 209.5V206.5M351.35 150.5V153.5M358.95 209.5V206.5M358.95 150.5V153.5M366.56 209.5V206.5M366.56 150.5V153.5M374.16 209.5V206.5M374.16 150.5V153.5M381.77 209.5V206.5M381.77 150.5V153.5M389.38 209.5V206.5M389.38 150.5V153.5M396.98 209.5V206.5M396.98 150.5V153.5M404.59 209.5V206.5M404.59 150.5V153.5M412.19 209.5V206.5M412.19 150.5V153.5M419.80 209.5V204.5M419.80 150.5V155.5M427.41 209.5V206.5M427.41 150.5V153.5M435.01 209.5V206.5M435.01 150.5V153.5M442.62 209.5V206.5M442.62 150.5V153.5M450.22 209.5V206.5M450.22 150.5V153.5M457.83 209.5V206.5M457.83 150.5V153.5M465.44 209.5V206.5M465.44 150.5V153.5M473.04 209.5V206.5M473.04 150.5V153.5M480.65 209.5V206.5M480.65 150.5V153.5M488.25 209.5V206.5M488.25 150.5V153.5M495.86 209.5V204.5M495.86 150.5V155.5M39.5 209.50H47.5M495.5 209.50H487.5M39.5 206.55H43.7M495.5 206.55H491.3M39.5 203.60H43.7M495.5 203.60H491.3M39.5 200.65H43.7M495.5 200.65H491.3M39.5 197.70H43.7M495.5 197.70H491.3M39.5 194.75H47.5M495.5 194.75H487.5M39.5 191.80H43.7M495.5 191.80H491.3M39.5 188.85H43.7M495.5 188.85H491.3M39.5 185.90H43.7M495.5 185.90H491.3M39.5 182.95H43.7M495.5 182.95H491.3M39.5 180.00H47.5M495.5 180.00H487.5M39.5 177.05H43.7M495.5 177.05H491.3M39.5 174.10H43.7M495.5 174.10H491.3M39.5 171.15H43.7M495.5 171.15H491.3M39.5 168.20H43.7M495.5 168.20H491.3M39.5 165.25H47.5M495.5 165.25H487.5M39.5 162.30H43.7M495.5 162.30H491.3M39.5 159.35H43.7M495.5 159.35H491.3M39.5 156.40H43.7M495.5 156.40H491.3M39.5 153.45H43.7M495.5 153.45H491.3M39.5 150.50H47.5M495.5 150.50H487.5" stroke="#6a6a6a" stroke-width="1" fill="none"/>
<rect x="39.5" y="218.5" width="456.0" height="59.0" fill="none" stroke="#6a6a6a" stroke-width="1"/>
<path d="M39.50 277.5V272.5M39.50 218.5V223.5M47.11 277.5V274.5M47.11 218.5V221.5M54.71 277.5V274.5M54.71 218.5V221.5M62.32 277.5V274.5M62.32 218.5V221.5M69.92 277.5V274.5M69.92 218.5V221.5M77.53 277.5V274.5M77.53 218.5V221.5M85.14 277.5V274.5M85.14 218.5V221.5M92.74 277.5V274.5M92.74 218.5V221.5M100.35 277.5V274.5M100.35 218.5V221.5M107.95 277.5V274.5M107.95 218.5V221.5M115.56 277.5V272.5M115.56 218.5V223.5M123.17 277.5V274.5M123.17 218.5V221.5M130.77 277.5V274.5M130.77 218.5V221.5M138.38 277.5V274.5M138.38 218.5V221.5M145.98 277.5V274.5M145.98 218.5V221.5M153.59 277.5V274.5M153.59 218.5V221.5M161.20 277.5V274.5M161.20 218.5V221.5M168.80 277.5V274.5M168.80 218.5V221.5M176.41 277.5V274.5M176.41 218.5V221.5M184.01 277.5V274.5M184.01 218.5V221.5M191.62 277.5V272.5M191.62 218.5V223.5M199.23 277.5V274.5M199.23 218.5V221.5M206.83 277.5V274.5M206.83 218.5V221.5M214.44 277.5V274.5M214.44 218.5V221.5M222.04 277.5V274.5M222.04 218.5V221.5M229.65 277.5V274.5M229.65 218.5V221.5M237.26 277.5V274.5M237.26 218.5V221.5M244.86 277.5V274.5M244.86 218.5V221.5M252.47 277.5V274.5M252.47 218.5V221.5M260.07 277.5V274.5M260.07 218.5V221.5M267.68 277.5V272.5M267.68 218.5V223.5M275.29 277.5V274.5M275.29 218.5V221.5M282.89 277.5V274.5M282.89 218.5V221.5M290.50 277.5V274.5M290.50 218.5V221.5M298.10 277.5V274.5M298.10 218.5V221.5M305.71 277.5V274.5M305.71 218.5V221.5M313.32 277.5V274.5M313.32 218.5V221.5M320.92 277.5V274.5M320.92 218.5V221.5M328.53 277.5V274.5M328.53 218.5V221.5M336.13 277.5V274.5M336.13 218.5V221.5M343.74 277.5V272.5M343.74 218.5V223.5M351.35 277.5V274.5M351.35 218.5V221.5M358.95 277.5V274.5M358.95 218.5V221.5M366.56 277.5V274.5M366.56 218.5V221.5M374.16 277.5V274.5M374.16 218.5V221.5M381.77 277.5V274.5M381.77 218.5V221.5M389.38 277.5V274.5M389.38 218.5V221.5M396.98 277.5V274.5M396.98 218.5V221.5M404.59 277.5V274.5M404.59 218.5V221.5M412.19 277.5V274.5M412.19 218.5V221.5M419.80 277.5V272.5M419.80 218.5V223.5M427.41 277.5V274.5M427.41 218.5V221.5M435.01 277.5V274.5M435.01 218.5V221.5M442.62 277.5V274.5M442.62 218.5V221.5M450.22 277.5V274.5M450.22 218.5V221.5M457.83 277.5V274.5M457.83 218.5V221.5M465.44 277.5V274.5M465.44 218.5V221.5M473.04 277.5V274.5M473.04 218.5V221.5M480.65 277.5V274.5M480.65 218.5V221.5M488.25 277.5V274.5M488.25 218.5V221.5M495.86 277.5V272.5M495.86 218.5V223.5M39.5 277.50H47.5M495.5 277.50H487.5M39.5 274.55H43.7M495.5 274.55H491.3M39.5 271.60H43.7M495.5 271.60H491.3M39.5 268.65H43.7M495.5 268.65H491.3M39.5 265.70H43.7M495.5 265.70H491.3M39.5 262.75H47.5M495.5 262.75H487.5M39.5 259.80H43.7M495.5 259.80H491.3M39.5 256.85H43.7M495.5 256.85H491.3M39.5 253.90H43.7M495.5 253.90H491.3M39.5 250.95H43.7M495.5 250.95H491.3M39.5 248.00H47.5M495.5 248.00H487.5M39.5 245.05H43.7M495.5 245.05H491.3M39.5 242.10H43.7M495.5 242.10H491.3M39.5 239.15H43.7M495.5 239.15H491.3M39.5 236.20H43.7M495.5 236.20H491.3M39.5 233.25H47.5M495.5 233.25H487.5M39.5 230.30H43.7M495.5 230.30H491.3M39.5 227.35H43.7M495.5 227.35H491.3M39.5 224.40H43.7M495.5 224.40H491.3M39.5 221.45H43.7M495.5 221.45H491.3M39.5 218.50H47.5M495.5 218.50H487.5" stroke="#6a6a6a" stroke-width="1" fill="none"/>
<rect x="39.5" y="286.5" width="456.0" height="59.0" fill="none" stroke="#6a6a6a" stroke-width="1"/>
<path d="M39.50 345.5V340.5M39.50 286.5V291.5M47.11 345.5V342.5M47.11 286.5V289.5M54.71 345.5V342.5M54.71 286.5V289.5M62.32 345.5V342.5M62.32 286.5V289.5M69.92 345.5V342.5M69.92 286.5V289.5M77.53 345.5V342.5M77.53 286.5V289.5M85.14 345.5V342.5M85.14 286.5V289.5M92.74 345.5V342.5M92.74 286.5V289.5M100.35 345.5V342.5M100.35 286.5V289.5M107.95 345.5V342.5M107.95 286.5V289.5M115.56 345.5V340.5M115.56 286.5V291.5M123.17 345.5V342.5M123.17 286.5V289.5M130.77 345.5V342.5M130.77 286.5V289.5M138.38 345.5V342.5M138.38 286.5V289.5M145.98 345.5V342.5M145.98 286.5V289.5M153.59 345.5V342.5M153.59 286.5V289.5M161.20 345.5V342.5M161.20 286.5V289.5M168.80 345.5V342.5M168.80 286.5V289.5M176.41 345.5V342.5M176.41 286.5V289.5M184.01 345.5V342.5M184.01 286.5V289.5M191.62 345.5V340.5M191.62 286.5V291.5M199.23 345.5V342.5M199.23 286.5V289.5M206.83 345.5V342.5M206.83 286.5V289.5M214.44 345.5V342.5M214.44 286.5V289.5M222.04 345.5V342.5M222.04 286.5V289.5M229.65 345.5V342.5M229.65 286.5V289.5M237.26 345.5V342.5M237.26 286.5V289.5M244.86 345.5V342.5M244.86 286.5V289.5M252.47 345.5V342.5M252.47 286.5V289.5M260.07 345.5V342.5M260.07 286.5V289.5M267.68 345.5V340.5M267.68 286.5V291.5M275.29 345.5V342.5M275.29 286.5V289.5M282.89 345.5V342.5M282.89 286.5V289.5M290.50 345.5V342.5M290.50 286.5V289.5M298.10 345.5V342.5M298.10 286.5V289.5M305.71 345.5V342.5M305.71 286.5V289.5M313.32 345.5V342.5M313.32 286.5V289.5M320.92 345.5V342.5M320.92 286.5V289.5M328.53 345.5V342.5M328.53 286.5V289.5M336.13 345.5V342.5M336.13 286.5V289.5M343.74 345.5V340.5M343.74 286.5V291.5M351.35 345.5V342.5M351.35 286.5V289.5M358.95 345.5V342.5M358.95 286.5V289.5M366.56 345.5V342.5M366.56 286.5V289.5M374.16 345.5V342.5M374.16 286.5V289.5M381.77 345.5V342.5M381.77 286.5V289.5M389.38 345.5V342.5M389.38 286.5V289.5M396.98 345.5V342.5M396.98 286.5V289.5M404.59 345.5V342.5M404.59 286.5V289.5M412.19 345.5V342.5M412.19 286.5V289.5M419.80 345.5V340.5M419.80 286.5V291.5M427.41 345.5V342.5M427.41 286.5V289.5M435.01 345.5V342.5M435.01 286.5V289.5M442.62 345.5V342.5M442.62 286.5V289.5M450.22 345.5V342.5M450.22 286.5V289.5M457.83 345.5V342.5M457.83 286.5V289.5M465.44 345.5V342.5M465.44 286.5V289.5M473.04 345.5V342.5M473.04 286.5V289.5M480.65 345.5V342.5M480.65 286.5V289.5M488.25 345.5V342.5M488.25 286.5V289.5M495.86 345.5V340.5M495.86 286.5V291.5M39.5 345.50H47.5M495.5 345.50H487.5M39.5 342.55H43.7M495.5 342.55H491.3M39.5 339.60H43.7M495.5 339.60H491.3M39.5 336.65H43.7M495.5 336.65H491.3M39.5 333.70H43.7M495.5 333.70H491.3M39.5 330.75H47.5M495.5 330.75H487.5M39.5 327.80H43.7M495.5 327.80H491.3M39.5 324.85H43.7M495.5 324.85H491.3M39.5 321.90H43.7M495.5 321.90H491.3M39.5 318.95H43.7M495.5 318.95H491.3M39.5 316.00H47.5M495.5 316.00H487.5M39.5 313.05H43.7M495.5 313.05H491.3M39.5 310.10H43.7M495.5 310.10H491.3M39.5 307.15H43.7M495.5 307.15H491.3M39.5 304.20H43.7M495.5 304.20H491.3M39.5 301.25H47.5M495.5 301.25H487.5M39.5 298.30H43.7M495.5 298.30H491.3M39.5 295.35H43.7M495.5 295.35H491.3M39.5 292.40H43.7M495.5 292.40H491.3M39.5 289.45H43.7M495.5 289.45H491.3M39.5 286.50H47.5M495.5 286.50H487.5" stroke="#6a6a6a" stroke-width="1" fill="none"/>
<rect x="39.5" y="354.5" width="456.0" height="59.0" fill="none" stroke="#6a6a6a" stroke-width="1"/>
<path d="M39.50 413.5V408.5M39.50 354.5V359.5M47.11 413.5V410.5M47.11 354.5V357.5M54.71 413.5V410.5M54.71 354.5V357.5M62.32 413.5V410.5M62.32 354.5V357.5M69.92 413.5V410.5M69.92 354.5V357.5M77.53 413.5V410.5M77.53 354.5V357.5M85.14 413.5V410.5M85.14 354.5V357.5M92.74 413.5V410.5M92.74 354.5V357.5M100.35 413.5V410.5M100.35 354.5V357.5M107.95 413.5V410.5M107.95 354.5V357.5M115.56 413.5V408.5M115.56 354.5V359.5M123.17 413.5V410.5M123.17 354.5V357.5M130.77 413.5V410.5M130.77 354.5V357.5M138.38 413.5V410.5M138.38 354.5V357.5M145.98 413.5V410.5M145.98 354.5V357.5M153.59 413.5V410.5M153.59 354.5V357.5M161.20 413.5V410.5M161.20 354.5V357.5M168.80 413.5V410.5M168.80 354.5V357.5M176.41 413.5V410.5M176.41 354.5V357.5M184.01 413.5V410.5M184.01 354.5V357.5M191.62 413.5V408.5M191.62 354.5V359.5M199.23 413.5V410.5M199.23 354.5V357.5M206.83 413.5V410.5M206.83 354.5V357.5M214.44 413.5V410.5M214.44 354.5V357.5M222.04 413.5V410.5M222.04 354.5V357.5M229.65 413.5V410.5M229.65 354.5V357.5M237.26 413.5V410.5M237.26 354.5V357.5M244.86 413.5V410.5M244.86 354.5V357.5M252.47 413.5V410.5M252.47 354.5V357.5M260.07 413.5V410.5M260.07 354.5V357.5M267.68 413.5V408.5M267.68 354.5V359.5M275.29 413.5V410.5M275.29 354.5V357.5M282.89 413.5V410.5M282.89 354.5V357.5M290.50 413.5V410.5M290.50 354.5V357.5M298.10 413.5V410.5M298.10 354.5V357.5M305.71 413.5V410.5M305.71 354.5V357.5M313.32 413.5V410.5M313.32 354.5V357.5M320.92 413.5V410.5M320.92 354.5V357.5M328.53 413.5V410.5M328.53 354.5V357.5M336.13 413.5V410.5M336.13 354.5V357.5M343.74 413.5V408.5M343.74 354.5V359.5M351.35 413.5V410.5M351.35 354.5V357.5M358.95 413.5V410.5M358.95 354.5V357.5M366.56 413.5V410.5M366.56 354.5V357.5M374.16 413.5V410.5M374.16 354.5V357.5M381.77 413.5V410.5M381.77 354.5V357.5M389.38 413.5V410.5M389.38 354.5V357.5M396.98 413.5V410.5M396.98 354.5V357.5M404.59 413.5V410.5M404.59 354.5V357.5M412.19 413.5V410.5M412.19 354.5V357.5M419.80 413.5V408.5M419.80 354.5V359.5M427.41 413.5V410.5M427.41 354.5V357.5M435.01 413.5V410.5M435.01 354.5V357.5M442.62 413.5V410.5M442.62 354.5V357.5M450.22 413.5V410.5M450.22 354.5V357.5M457.83 413.5V410.5M457.83 354.5V357.5M465.44 413.5V410.5M465.44 354.5V357.5M473.04 413.5V410.5M473.04 354.5V357.5M480.65 413.5V410.5M480.65 354.5V357.5M488.25 413.5V410.5M488.25 354.5V357.5M495.86 413.5V408.5M495.86 354.5V359.5M39.5 413.50H47.5M495.5 413.50H487.5M39.5 410.55H43.7M495.5 410.55H491.3M39.5 407.60H43.7M495.5 407.60H491.3M39.5 404.65H43.7M495.5 404.65H491.3M39.5 401.70H43.7M495.5 401.70H491.3M39.5 398.75H47.5M495.5 398.75H487.5M39.5 395.80H43.7M495.5 395.80H491.3M39.5 392.85H43.7M495.5 392.85H491.3M39.5 389.90H43.7M495.5 389.90H491.3M39.5 386.95H43.7M495.5 386.95H491.3M39.5 384.00H47.5M495.5 384.00H487.5M39.5 381.05H43.7M495.5 381.05H491.3M39.5 378.10H43.7M495.5 378.10H491.3M39.5 375.15H43.7M495.5 375.15H491.3M39.5 372.20H43.7M495.5 372.20H491.3M39.5 369.25H47.5M495.5 369.25H487.5M39.5 366.30H43.7M495.5 366.30H491.3M39.5 363.35H43.7M495.5 363.35H491.3M39.5 360.40H43.7M495.5 360.40H491.3M39.5 357.45H43.7M495.5 357.45H491.3M39.5 354.50H47.5M495.5 354.50H487.5" stroke="#6a6a6a" stroke-width="1" fill="none"/>
<rect x="39.0" y="12" width="160.0" height="2.6" fill="#141414"/>
<rect x="347.5" y="12" width="148.5" height="2.6" fill="#141414"/>
<g font-family="'Liberation Sans', Arial, sans-serif">
<text x="109.7" y="9.7" font-size="10.8" text-anchor="middle" fill="#1a1a1a" letter-spacing="0"  stroke="#1a1a1a" stroke-width="0.3" textLength="80" lengthAdjust="spacing">Magnetosphere</text>
<text x="255.7" y="9.7" font-size="10.8" text-anchor="middle" fill="#1a1a1a" letter-spacing="0"  stroke="#1a1a1a" stroke-width="0.3" textLength="88" lengthAdjust="spacing">Hall Effect Region</text>
<text x="420.6" y="9.7" font-size="10.8" text-anchor="middle" fill="#1a1a1a" letter-spacing="0"  stroke="#1a1a1a" stroke-width="0.3" textLength="79.5" lengthAdjust="spacing">Magnetosheath</text>
<text transform="translate(36.6,17.5) scale(0.9,1)" x="0" y="0" font-size="8.4" text-anchor="end" fill="#1a1a1a" letter-spacing="0"  stroke="#1a1a1a" stroke-width="0.08">60</text>
<text transform="translate(36.6,29.3) scale(0.9,1)" x="0" y="0" font-size="8.4" text-anchor="end" fill="#1a1a1a" letter-spacing="0"  stroke="#1a1a1a" stroke-width="0.08">40</text>
<text transform="translate(36.6,41.1) scale(0.9,1)" x="0" y="0" font-size="8.4" text-anchor="end" fill="#1a1a1a" letter-spacing="0"  stroke="#1a1a1a" stroke-width="0.08">20</text>
<text transform="translate(36.6,52.9) scale(0.9,1)" x="0" y="0" font-size="8.4" text-anchor="end" fill="#1a1a1a" letter-spacing="0"  stroke="#1a1a1a" stroke-width="0.08">0</text>
<text transform="translate(36.6,64.7) scale(0.9,1)" x="0" y="0" font-size="8.4" text-anchor="end" fill="#1a1a1a" letter-spacing="0"  stroke="#1a1a1a" stroke-width="0.08">-20</text>
<text transform="translate(36.6,76.5) scale(0.9,1)" x="0" y="0" font-size="8.4" text-anchor="end" fill="#1a1a1a" letter-spacing="0"  stroke="#1a1a1a" stroke-width="0.08">-40</text>
<text transform="translate(36.6,85.5) scale(0.9,1)" x="0" y="0" font-size="8.4" text-anchor="end" fill="#1a1a1a" letter-spacing="0"  stroke="#1a1a1a" stroke-width="0.08">20</text>
<text transform="translate(36.6,100.2) scale(0.9,1)" x="0" y="0" font-size="8.4" text-anchor="end" fill="#1a1a1a" letter-spacing="0"  stroke="#1a1a1a" stroke-width="0.08">15</text>
<text transform="translate(36.6,115.0) scale(0.9,1)" x="0" y="0" font-size="8.4" text-anchor="end" fill="#1a1a1a" letter-spacing="0"  stroke="#1a1a1a" stroke-width="0.08">10</text>
<text transform="translate(36.6,129.8) scale(0.9,1)" x="0" y="0" font-size="8.4" text-anchor="end" fill="#1a1a1a" letter-spacing="0"  stroke="#1a1a1a" stroke-width="0.08">5</text>
<text transform="translate(36.6,144.5) scale(0.9,1)" x="0" y="0" font-size="8.4" text-anchor="end" fill="#1a1a1a" letter-spacing="0"  stroke="#1a1a1a" stroke-width="0.08">0</text>
<text transform="translate(36.6,153.5) scale(0.9,1)" x="0" y="0" font-size="8.4" text-anchor="end" fill="#1a1a1a" letter-spacing="0"  stroke="#1a1a1a" stroke-width="0.08">100</text>
<text transform="translate(36.6,168.2) scale(0.9,1)" x="0" y="0" font-size="8.4" text-anchor="end" fill="#1a1a1a" letter-spacing="0"  stroke="#1a1a1a" stroke-width="0.08">0</text>
<text transform="translate(36.6,183.0) scale(0.9,1)" x="0" y="0" font-size="8.4" text-anchor="end" fill="#1a1a1a" letter-spacing="0"  stroke="#1a1a1a" stroke-width="0.08">-100</text>
<text transform="translate(36.6,197.8) scale(0.9,1)" x="0" y="0" font-size="8.4" text-anchor="end" fill="#1a1a1a" letter-spacing="0"  stroke="#1a1a1a" stroke-width="0.08">-200</text>
<text transform="translate(36.6,212.5) scale(0.9,1)" x="0" y="0" font-size="8.4" text-anchor="end" fill="#1a1a1a" letter-spacing="0"  stroke="#1a1a1a" stroke-width="0.08">-300</text>
<text transform="translate(36.6,221.5) scale(0.9,1)" x="0" y="0" font-size="8.4" text-anchor="end" fill="#1a1a1a" letter-spacing="0"  stroke="#1a1a1a" stroke-width="0.08">1000</text>
<text transform="translate(36.6,236.2) scale(0.9,1)" x="0" y="0" font-size="8.4" text-anchor="end" fill="#1a1a1a" letter-spacing="0"  stroke="#1a1a1a" stroke-width="0.08">500</text>
<text transform="translate(36.6,251.0) scale(0.9,1)" x="0" y="0" font-size="8.4" text-anchor="end" fill="#1a1a1a" letter-spacing="0"  stroke="#1a1a1a" stroke-width="0.08">0</text>
<text transform="translate(36.6,265.8) scale(0.9,1)" x="0" y="0" font-size="8.4" text-anchor="end" fill="#1a1a1a" letter-spacing="0"  stroke="#1a1a1a" stroke-width="0.08">-500</text>
<text transform="translate(36.6,280.5) scale(0.9,1)" x="0" y="0" font-size="8.4" text-anchor="end" fill="#1a1a1a" letter-spacing="0"  stroke="#1a1a1a" stroke-width="0.08">-1000</text>
<text transform="translate(36.6,289.5) scale(0.9,1)" x="0" y="0" font-size="8.4" text-anchor="end" fill="#1a1a1a" letter-spacing="0"  stroke="#1a1a1a" stroke-width="0.08">1000</text>
<text transform="translate(36.6,304.2) scale(0.9,1)" x="0" y="0" font-size="8.4" text-anchor="end" fill="#1a1a1a" letter-spacing="0"  stroke="#1a1a1a" stroke-width="0.08">500</text>
<text transform="translate(36.6,319.0) scale(0.9,1)" x="0" y="0" font-size="8.4" text-anchor="end" fill="#1a1a1a" letter-spacing="0"  stroke="#1a1a1a" stroke-width="0.08">0</text>
<text transform="translate(36.6,333.8) scale(0.9,1)" x="0" y="0" font-size="8.4" text-anchor="end" fill="#1a1a1a" letter-spacing="0"  stroke="#1a1a1a" stroke-width="0.08">-500</text>
<text transform="translate(36.6,348.5) scale(0.9,1)" x="0" y="0" font-size="8.4" text-anchor="end" fill="#1a1a1a" letter-spacing="0"  stroke="#1a1a1a" stroke-width="0.08">-1000</text>
<text transform="translate(36.6,357.5) scale(0.9,1)" x="0" y="0" font-size="8.4" text-anchor="end" fill="#1a1a1a" letter-spacing="0"  stroke="#1a1a1a" stroke-width="0.08">25</text>
<text transform="translate(36.6,372.2) scale(0.9,1)" x="0" y="0" font-size="8.4" text-anchor="end" fill="#1a1a1a" letter-spacing="0"  stroke="#1a1a1a" stroke-width="0.08">12.5</text>
<text transform="translate(36.6,387.0) scale(0.9,1)" x="0" y="0" font-size="8.4" text-anchor="end" fill="#1a1a1a" letter-spacing="0"  stroke="#1a1a1a" stroke-width="0.08">0</text>
<text transform="translate(36.6,401.8) scale(0.9,1)" x="0" y="0" font-size="8.4" text-anchor="end" fill="#1a1a1a" letter-spacing="0"  stroke="#1a1a1a" stroke-width="0.08">-12.5</text>
<text transform="translate(36.6,416.5) scale(0.9,1)" x="0" y="0" font-size="8.4" text-anchor="end" fill="#1a1a1a" letter-spacing="0"  stroke="#1a1a1a" stroke-width="0.08">-25</text>
<text x="47.4" y="28.0" font-size="11.8" text-anchor="start" fill="#1a1a1a" letter-spacing="-0.4" stroke="#1a1a1a" stroke-width="0.25">(a)</text>
<text x="47.4" y="96.0" font-size="11.8" text-anchor="start" fill="#1a1a1a" letter-spacing="-0.4" stroke="#1a1a1a" stroke-width="0.25">(b)</text>
<text x="47.4" y="164.0" font-size="11.8" text-anchor="start" fill="#1a1a1a" letter-spacing="-0.4" stroke="#1a1a1a" stroke-width="0.25">(c)</text>
<text x="47.4" y="232.0" font-size="11.8" text-anchor="start" fill="#1a1a1a" letter-spacing="-0.4" stroke="#1a1a1a" stroke-width="0.25">(d)</text>
<text x="47.4" y="300.0" font-size="11.8" text-anchor="start" fill="#1a1a1a" letter-spacing="-0.4" stroke="#1a1a1a" stroke-width="0.25">(e)</text>
<text x="47.4" y="368.0" font-size="11.8" text-anchor="start" fill="#1a1a1a" letter-spacing="-0.4" stroke="#1a1a1a" stroke-width="0.25">(f)</text>
<text transform="translate(39.5,422.5) scale(0.93,1)" x="0" y="0" font-size="9.1" text-anchor="middle" fill="#1a1a1a" letter-spacing="0"  stroke="#1a1a1a" stroke-width="0.15">15:10:51</text>
<text transform="translate(115.6,422.5) scale(0.93,1)" x="0" y="0" font-size="9.1" text-anchor="middle" fill="#1a1a1a" letter-spacing="0"  stroke="#1a1a1a" stroke-width="0.15">15:10:52</text>
<text transform="translate(191.6,422.5) scale(0.93,1)" x="0" y="0" font-size="9.1" text-anchor="middle" fill="#1a1a1a" letter-spacing="0"  stroke="#1a1a1a" stroke-width="0.15">15:10:53</text>
<text transform="translate(267.7,422.5) scale(0.93,1)" x="0" y="0" font-size="9.1" text-anchor="middle" fill="#1a1a1a" letter-spacing="0"  stroke="#1a1a1a" stroke-width="0.15">15:10:54</text>
<text transform="translate(343.7,422.5) scale(0.93,1)" x="0" y="0" font-size="9.1" text-anchor="middle" fill="#1a1a1a" letter-spacing="0"  stroke="#1a1a1a" stroke-width="0.15">15:10:55</text>
<text transform="translate(419.8,422.5) scale(0.93,1)" x="0" y="0" font-size="9.1" text-anchor="middle" fill="#1a1a1a" letter-spacing="0"  stroke="#1a1a1a" stroke-width="0.15">15:10:56</text>
<text transform="translate(495.9,422.5) scale(0.93,1)" x="0" y="0" font-size="9.1" text-anchor="middle" fill="#1a1a1a" letter-spacing="0"  stroke="#1a1a1a" stroke-width="0.15">15:10:57</text>
<text x="265.4" y="435.8" font-size="12.6" text-anchor="middle" fill="#1a1a1a" letter-spacing="0"  stroke="#1a1a1a" stroke-width="0.3" textLength="63.2" lengthAdjust="spacing">2015-10-21</text>
<text transform="translate(505.3,27.6) scale(0.88,1)" x="0" y="0" font-size="12" fill="#f21010" stroke="#f21010" stroke-width="0.3">B<tspan font-size="7.6" dy="3.4" dx="-0.3">L</tspan></text>
<text transform="translate(505.3,41.2) scale(0.88,1)" x="0" y="0" font-size="12" fill="#169016" stroke="#169016" stroke-width="0.3">B<tspan font-size="7.6" dy="3.4" dx="-0.3">M</tspan></text>
<text transform="translate(505.3,54.6) scale(0.88,1)" x="0" y="0" font-size="12" fill="#1010f2" stroke="#1010f2" stroke-width="0.3">B<tspan font-size="7.6" dy="3.4" dx="-0.3">N</tspan></text>
<text x="505.0" y="109.8" font-size="12" fill="#1010f2" stroke="#1010f2" stroke-width="0.3" textLength="16.6" lengthAdjust="spacing">Ion</text>
<text x="505.0" y="122.8" font-size="12" fill="#f21010" stroke="#f21010" stroke-width="0.3" textLength="44.2" lengthAdjust="spacing">Electron</text>
<text transform="translate(505.5,163.9) scale(0.88,1)" x="0" y="0" font-size="12" fill="#f21010" stroke="#f21010" stroke-width="0.3">V<tspan font-size="7.6" dy="3.4" dx="0.3">i_L</tspan></text>
<text transform="translate(505.5,177.6) scale(0.88,1)" x="0" y="0" font-size="12" fill="#169016" stroke="#169016" stroke-width="0.3">V<tspan font-size="7.6" dy="3.4" dx="0.3">i_M</tspan></text>
<text transform="translate(505.5,191.2) scale(0.88,1)" x="0" y="0" font-size="12" fill="#1010f2" stroke="#1010f2" stroke-width="0.3">V<tspan font-size="7.6" dy="3.4" dx="0.3">i_N</tspan></text>
<text transform="translate(505.5,231.5) scale(0.88,1)" x="0" y="0" font-size="12" fill="#f21010" stroke="#f21010" stroke-width="0.3">V<tspan font-size="7.6" dy="3.4" dx="0.6">e_L</tspan></text>
<text transform="translate(505.5,245.2) scale(0.88,1)" x="0" y="0" font-size="12" fill="#169016" stroke="#169016" stroke-width="0.3">V<tspan font-size="7.6" dy="3.4" dx="0.6">e_M</tspan></text>
<text transform="translate(505.5,258.8) scale(0.88,1)" x="0" y="0" font-size="12" fill="#1010f2" stroke="#1010f2" stroke-width="0.3">V<tspan font-size="7.6" dy="3.4" dx="0.6">e_N</tspan></text>
<text transform="translate(506.0,313.3) scale(0.88,1)" x="0" y="0" font-size="12" fill="#f21010" stroke="#f21010" stroke-width="0.3">J<tspan font-size="7.6" dy="3.4" dx="-0.3">L</tspan></text>
<text transform="translate(505.3,368.5) scale(0.88,1)" x="0" y="0" font-size="12" fill="#f21010" stroke="#f21010" stroke-width="0.3">E<tspan font-size="7.6" dy="3.4" dx="-0.3">L</tspan></text>
<text transform="translate(505.3,381.8) scale(0.88,1)" x="0" y="0" font-size="12" fill="#169016" stroke="#169016" stroke-width="0.3">E<tspan font-size="7.6" dy="3.4" dx="-0.3">M</tspan></text>
<text transform="translate(505.3,395.0) scale(0.88,1)" x="0" y="0" font-size="12" fill="#1010f2" stroke="#1010f2" stroke-width="0.3">E<tspan font-size="7.6" dy="3.4" dx="-0.3">N</tspan></text>
<text transform="translate(18.8,44.0) rotate(-90)" x="0" y="0" font-size="7.4" text-anchor="middle" fill="#1a1a1a" stroke="#1a1a1a" stroke-width="0.2"><tspan dy="0.0">B(nT)</tspan></text>
<text transform="translate(21.2,112.4) rotate(-90)" x="0" y="0" font-size="7.4" text-anchor="middle" fill="#1a1a1a" stroke="#1a1a1a" stroke-width="0.2"><tspan dy="0.0">N</tspan><tspan font-size="4.59" dy="1.3">i</tspan><tspan dy="-1.3">(cm</tspan><tspan font-size="4.59" dy="-3.4">-3</tspan><tspan dy="3.4">)</tspan></text>
<text transform="translate(12.6,180.0) rotate(-90)" x="0" y="0" font-size="7.7" text-anchor="middle" fill="#1a1a1a" stroke="#1a1a1a" stroke-width="0.2"><tspan dy="0.0">V</tspan><tspan font-size="4.77" dy="1.3">i</tspan><tspan dy="-1.3">(km s</tspan><tspan font-size="4.77" dy="-3.4">-1</tspan><tspan dy="3.4">)</tspan></text>
<text transform="translate(8.6,248.1) rotate(-90)" x="0" y="0" font-size="7.7" text-anchor="middle" fill="#1a1a1a" stroke="#1a1a1a" stroke-width="0.2"><tspan dy="0.0">V</tspan><tspan font-size="4.77" dy="1.3">e</tspan><tspan dy="-1.3">(km s</tspan><tspan font-size="4.77" dy="-3.4">-1</tspan><tspan dy="3.4">)</tspan></text>
<text transform="translate(9.6,315.9) rotate(-90)" x="0" y="0" font-size="7.7" text-anchor="middle" fill="#1a1a1a" stroke="#1a1a1a" stroke-width="0.2"><tspan dy="0.0">J(μA m</tspan><tspan font-size="4.77" dy="-3.4">-2</tspan><tspan dy="3.4">)</tspan></text>
<text transform="translate(12.0,383.9) rotate(-90)" x="0" y="0" font-size="7.7" text-anchor="middle" fill="#1a1a1a" stroke="#1a1a1a" stroke-width="0.2"><tspan dy="0.0">E(mV m</tspan><tspan font-size="4.77" dy="-3.4">-1</tspan><tspan dy="3.4">)</tspan></text>
</g>
</svg>
</body></html>
